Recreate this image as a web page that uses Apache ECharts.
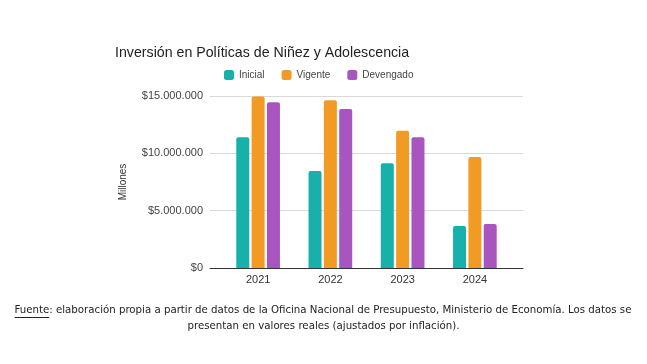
<!DOCTYPE html>
<html>
<head>
<meta charset="utf-8">
<script src="https://cdn.jsdelivr.net/npm/echarts@6/dist/echarts.min.js"></script>
<style>
html,body{margin:0;padding:0;background:#fff;}
#c{width:647px;height:364px;}
</style>
</head>
<body>
<div id="c"></div>
<script>
var categories = ['2021', '2022', '2023', '2024'];
var inicial = [11400000, 8460000, 9130000, 3660000];
var vigente = [14950000, 14620000, 11970000, 9680000];
var devengado = [14450000, 13870000, 11400000, 3840000];
var yTicks = [0, 5000000, 10000000, 15000000];

var titleText = 'Inversión en Políticas de Niñez y Adolescencia';
var footer1a = 'Fuente';
var footer1b = ': elaboración propia a partir de datos de la Oficina Nacional de Presupuesto, Ministerio de Economía. Los datos se';
var footer2 = 'presentan en valores reales (ajustados por inflación).';

function fmt(v) {
  return '$' + String(v).replace(/\B(?=(\d{3})+(?!\d))/g, '.');
}

var footFont = '11.35px "DejaVu Sans Condensed", sans-serif';
var cv = document.createElement('canvas').getContext('2d');
cv.font = footFont;
var wA = cv.measureText(footer1a).width;
var wAll = cv.measureText(footer1a + footer1b).width;
var cx = 323;
var startX = cx - wAll / 2;

var chart = echarts.init(document.getElementById('c'), null, {renderer: 'canvas'});
var yMax = yTicks[yTicks.length - 1];
var yInt = yTicks[1] - yTicks[0];

chart.setOption({
  backgroundColor: '#fff',
  animation: false,
  textStyle: {fontFamily: 'Arial, "Liberation Sans", sans-serif'},
  title: {
    text: titleText,
    left: 110, top: 41,
    textStyle: {fontSize: 14.2, fontWeight: 'normal', color: '#222'}
  },
  legend: {
    left: 219, top: 65,
    itemWidth: 10, itemHeight: 10, itemGap: 17,
    icon: 'roundRect',
    textStyle: {fontSize: 10, color: '#444'},
    data: ['Inicial', 'Vigente', 'Devengado']
  },
  grid: [
    {left: 210, right: 124, top: 96, bottom: 96},
    {left: 222, right: 136, top: 96, bottom: 96}
  ],
  xAxis: [
    {gridIndex: 0, type: 'category', data: categories,
     axisLine: {show: true, lineStyle: {color: '#333', width: 1}},
     axisTick: {show: false}, axisLabel: {show: false}, splitLine: {show: false}},
    {gridIndex: 1, type: 'category', data: categories,
     axisLine: {show: false}, axisTick: {show: false},
     axisLabel: {color: '#333', fontSize: 11, margin: 6}}
  ],
  yAxis: [
    {gridIndex: 0, type: 'value', min: 0, max: yMax, interval: yInt,
     name: 'Millones', nameLocation: 'middle', nameRotate: 90, nameGap: 82,
     nameTextStyle: {color: '#333', fontSize: 10},
     axisLine: {show: false}, axisTick: {show: false},
     axisLabel: {color: '#444', fontSize: 11, margin: 7, formatter: fmt},
     splitLine: {lineStyle: {color: '#d9d9d9', width: 1}}},
    {gridIndex: 1, type: 'value', min: 0, max: yMax, interval: yInt,
     show: false, splitLine: {show: false}}
  ],
  series: [
    {name: 'Inicial', type: 'bar', xAxisIndex: 1, yAxisIndex: 1, data: inicial,
     barWidth: 13, barGap: '18%', itemStyle: {color: '#17b0ab', borderRadius: [2, 2, 0, 0]}},
    {name: 'Vigente', type: 'bar', xAxisIndex: 1, yAxisIndex: 1, data: vigente,
     barWidth: 13, barGap: '18%', itemStyle: {color: '#f29b24', borderRadius: [2, 2, 0, 0]}},
    {name: 'Devengado', type: 'bar', xAxisIndex: 1, yAxisIndex: 1, data: devengado,
     barWidth: 13, barGap: '18%', itemStyle: {color: '#a855c0', borderRadius: [2, 2, 0, 0]}}
  ],
  graphic: [
    {type: 'text', left: startX, top: 305,
     style: {text: footer1a + footer1b, font: footFont, fill: '#222'}},
    {type: 'line', shape: {x1: startX, y1: 317.5, x2: startX + wA, y2: 317.5},
     style: {stroke: '#222', lineWidth: 1}},
    {type: 'text', left: 'center', top: 321,
     style: {text: footer2, font: footFont, fill: '#222'}}
  ]
});
</script>
</body>
</html>
